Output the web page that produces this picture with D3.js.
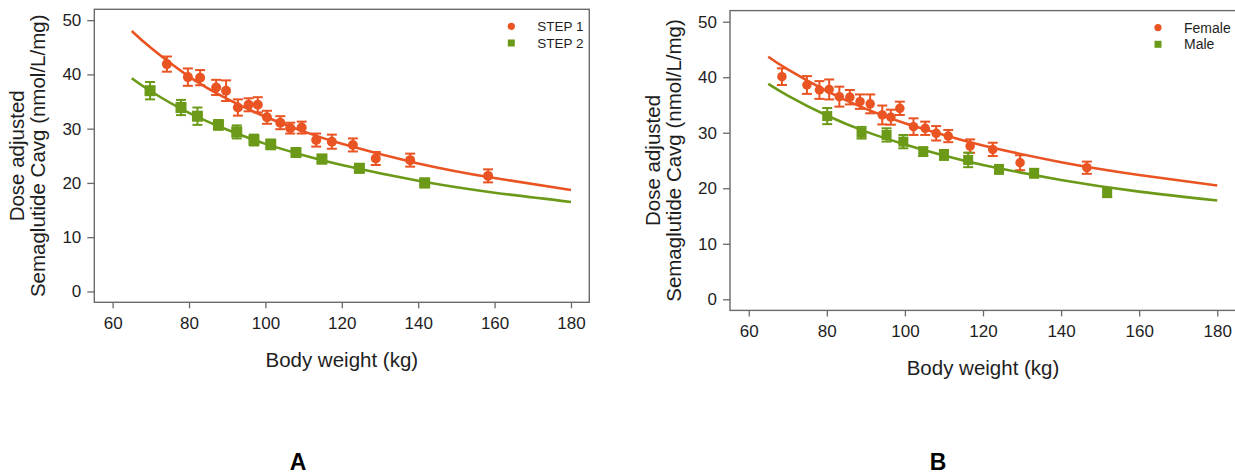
<!DOCTYPE html>
<html>
<head>
<meta charset="utf-8">
<script src="https://cdn.jsdelivr.net/npm/d3@7"></script>
<style>
  html, body { margin: 0; padding: 0; background: #ffffff; }
  svg { display: block; }
  text { font-family: "Liberation Sans", Arial, "Helvetica", sans-serif; }
</style>
</head>
<body>
<svg id="chart" width="1235" height="475"></svg>
<script>
// Axis ticks
const weightTicks = [60, 80, 100, 120, 140, 160, 180];
const concTicks = [0, 10, 20, 30, 40, 50];

// Panel A: observed means ± SE by weight bin, per trial
const step1Weight = [74.2, 79.7, 82.9, 87.1, 89.7, 92.8, 95.6, 98.0, 100.4, 103.9, 106.5, 109.5, 113.3, 117.4, 122.9, 128.9, 137.9, 158.3];
const step1Conc   = [41.9, 39.5, 39.4, 37.6, 37.0, 33.9, 34.4, 34.4, 32.1, 31.1, 30.1, 30.2, 27.9, 27.6, 27.0, 24.5, 24.2, 21.3];
const step1Err    = [1.4, 1.6, 1.4, 1.4, 1.9, 1.5, 1.2, 1.4, 1.2, 1.2, 1.0, 1.1, 1.2, 1.3, 1.2, 1.2, 1.2, 1.2];

const step2Weight = [69.8, 77.9, 82.2, 87.7, 92.5, 97.0, 101.4, 108.0, 114.8, 124.6, 141.7];
const step2Conc   = [37.0, 33.9, 32.3, 30.7, 29.4, 27.9, 27.1, 25.6, 24.4, 22.7, 20.0];
const step2Err    = [1.6, 1.4, 1.6, 0.9, 1.2, 1.0, 0.9, 0.8, 0.8, 0.8, 0.8];

// Panel B: observed means ± SE by weight bin, per sex
const femaleWeight = [68.5, 74.9, 78.1, 80.6, 83.2, 85.9, 88.5, 91.1, 94.2, 96.4, 98.7, 102.2, 105.2, 108.0, 111.1, 116.7, 122.5, 129.5, 146.6];
const femaleConc   = [40.1, 38.6, 37.7, 37.8, 36.5, 36.4, 35.6, 35.2, 33.2, 32.8, 34.4, 31.1, 30.8, 29.9, 29.4, 27.6, 27.0, 24.6, 23.7];
const femaleErr    = [1.5, 1.6, 1.6, 1.8, 1.8, 1.3, 1.3, 1.7, 1.7, 1.35, 1.2, 1.5, 1.2, 1.3, 1.1, 1.2, 1.2, 1.35, 1.1];

const maleWeight = [80.1, 88.9, 95.3, 99.6, 104.7, 110.0, 116.2, 124.1, 133.1, 151.8];
const maleConc   = [33.0, 30.0, 29.6, 28.4, 26.6, 26.0, 25.1, 23.4, 22.7, 19.2];
const maleErr    = [1.45, 1.05, 1.2, 1.2, 0.8, 0.9, 1.3, 0.8, 0.8, 0.8];

// Model-predicted exposure curves
const curveWeight = [65, 70, 80, 90, 100, 110, 120, 140, 160, 180];
const step1Curve  = [48.0, 44.9, 39.6, 35.5, 32.2, 29.5, 27.2, 23.6, 20.9, 18.7];
const step2Curve  = [39.3, 36.9, 32.9, 29.8, 27.2, 25.1, 23.3, 20.4, 18.2, 16.5];
const femaleCurve = [43.7, 41.4, 37.5, 34.3, 31.7, 29.6, 27.7, 24.7, 22.4, 20.5];
const maleCurve   = [38.8, 36.7, 33.1, 30.2, 27.9, 25.9, 24.2, 21.5, 19.4, 17.8];

const panelLabels = ["A", "B"];

const ORANGE = "#EA5322";
const GREEN = "#6A9A18";
const AXIS = "#6a6a6a";
const INK = "#1e1e1e";

const svg = d3.select("#chart");

function drawPanel(cfg) {
  const x = d3.scaleLinear().domain([55.2, 184.8]).range([cfg.left, cfg.right]);
  const y = d3.scaleLinear().domain([-2, 52]).range([cfg.bottom, cfg.top]);
  const g = svg.append("g");

  // frame
  g.append("rect")
    .attr("x", cfg.left).attr("y", cfg.top)
    .attr("width", cfg.right - cfg.left).attr("height", cfg.bottom - cfg.top)
    .attr("fill", "none").attr("stroke", AXIS).attr("stroke-width", 1.4);

  // axes
  const xAxis = g.append("g")
    .attr("transform", `translate(0,${cfg.bottom})`)
    .call(d3.axisBottom(x).tickValues(weightTicks).tickSize(6).tickPadding(9).tickSizeOuter(0));
  const yAxis = g.append("g")
    .attr("transform", `translate(${cfg.left},0)`)
    .call(d3.axisLeft(y).tickValues(concTicks).tickSize(7).tickPadding(6).tickSizeOuter(0));
  [xAxis, yAxis].forEach(a => {
    a.select(".domain").remove();
    a.selectAll(".tick line").attr("stroke", AXIS).attr("stroke-width", 1.3);
    a.selectAll(".tick text").attr("fill", INK).style("font-size", "17px")
      .style("font-family", '"Liberation Sans", Arial, sans-serif');
  });

  // axis titles
  g.append("text")
    .attr("x", (cfg.left + cfg.right) / 2).attr("y", cfg.bottom + 65)
    .attr("text-anchor", "middle").attr("fill", INK).style("font-size", "20.5px")
    .text("Body weight (kg)");
  const yMid = (cfg.top + cfg.bottom) / 2;
  const yTitle = g.append("text")
    .attr("transform", `translate(${cfg.left - 70},${yMid}) rotate(-90)`)
    .attr("text-anchor", "middle").attr("fill", INK).style("font-size", "20.5px");
  yTitle.append("tspan").attr("x", 0).attr("dy", 0).text("Dose adjusted");
  yTitle.append("tspan").attr("x", 0).attr("dy", 20.5).text("Semaglutide Cavg (nmol/L/mg)");

  const line = d3.line()
    .x((d, i) => x(curveWeight[i]))
    .y(d => y(d))
    .curve(d3.curveNatural);

  cfg.series.forEach(s => {
    // predicted curve
    g.append("path").datum(s.curve)
      .attr("d", line).attr("fill", "none")
      .attr("stroke", s.color).attr("stroke-width", 2.6);

    const pts = s.weight.map((w, i) => ({ w, c: s.conc[i], e: s.err[i] }));
    const pg = g.append("g").attr("stroke", s.color).attr("fill", s.color);
    // error bars
    pts.forEach(p => {
      const cx = x(p.w), y0 = y(p.c - p.e), y1 = y(p.c + p.e);
      pg.append("line").attr("x1", cx).attr("x2", cx).attr("y1", y0).attr("y2", y1).attr("stroke-width", 2);
      [y0, y1].forEach(yy => pg.append("line")
        .attr("x1", cx - 5).attr("x2", cx + 5).attr("y1", yy).attr("y2", yy).attr("stroke-width", 2));
    });
    // markers
    if (s.shape === "circle") {
      pg.selectAll("circle.pt").data(pts).join("circle")
        .attr("cx", p => x(p.w)).attr("cy", p => y(p.c)).attr("r", s.size / 2).attr("stroke", "none");
    } else {
      pg.selectAll("rect.pt").data(pts).join("rect")
        .attr("x", p => x(p.w) - s.size / 2).attr("y", p => y(p.c) - s.size / 2)
        .attr("width", s.size).attr("height", s.size).attr("stroke", "none");
    }
  });

  // legend
  const lx = cfg.right - 78;
  cfg.series.forEach((s, i) => {
    const ly = cfg.top + 17 + i * 16.7;
    if (s.shape === "circle") {
      g.append("circle").attr("cx", lx).attr("cy", ly).attr("r", 3.6).attr("fill", s.color);
    } else {
      g.append("rect").attr("x", lx - 3.5).attr("y", ly - 3.5).attr("width", 7).attr("height", 7).attr("fill", s.color);
    }
    g.append("text").attr("x", lx + 26).attr("y", ly).attr("dy", "0.35em")
      .attr("fill", INK).style("font-size", cfg.legendFont)
      .text(s.name);
  });

  // panel letter
  svg.append("text")
    .attr("x", cfg.labelX).attr("y", 470)
    .attr("text-anchor", "middle").attr("fill", "#000")
    .style("font-size", "23px").style("font-weight", "bold")
    .text(cfg.label);
}

drawPanel({
  left: 94.3, right: 589.3, top: 9.3, bottom: 302.3,
  label: panelLabels[0], labelX: 298, legendFont: "13.5px",
  series: [
    { name: "STEP 1", color: ORANGE, shape: "circle", size: 10, weight: step1Weight, conc: step1Conc, err: step1Err, curve: step1Curve },
    { name: "STEP 2", color: GREEN, shape: "square", size: 11, weight: step2Weight, conc: step2Conc, err: step2Err, curve: step2Curve }
  ]
});

drawPanel({
  left: 730, right: 1236, top: 10.6, bottom: 310.4,
  label: panelLabels[1], labelX: 938, legendFont: "14px",
  series: [
    { name: "Female", color: ORANGE, shape: "circle", size: 9.5, weight: femaleWeight, conc: femaleConc, err: femaleErr, curve: femaleCurve },
    { name: "Male", color: GREEN, shape: "square", size: 10, weight: maleWeight, conc: maleConc, err: maleErr, curve: maleCurve }
  ]
});
</script>
</body>
</html>
